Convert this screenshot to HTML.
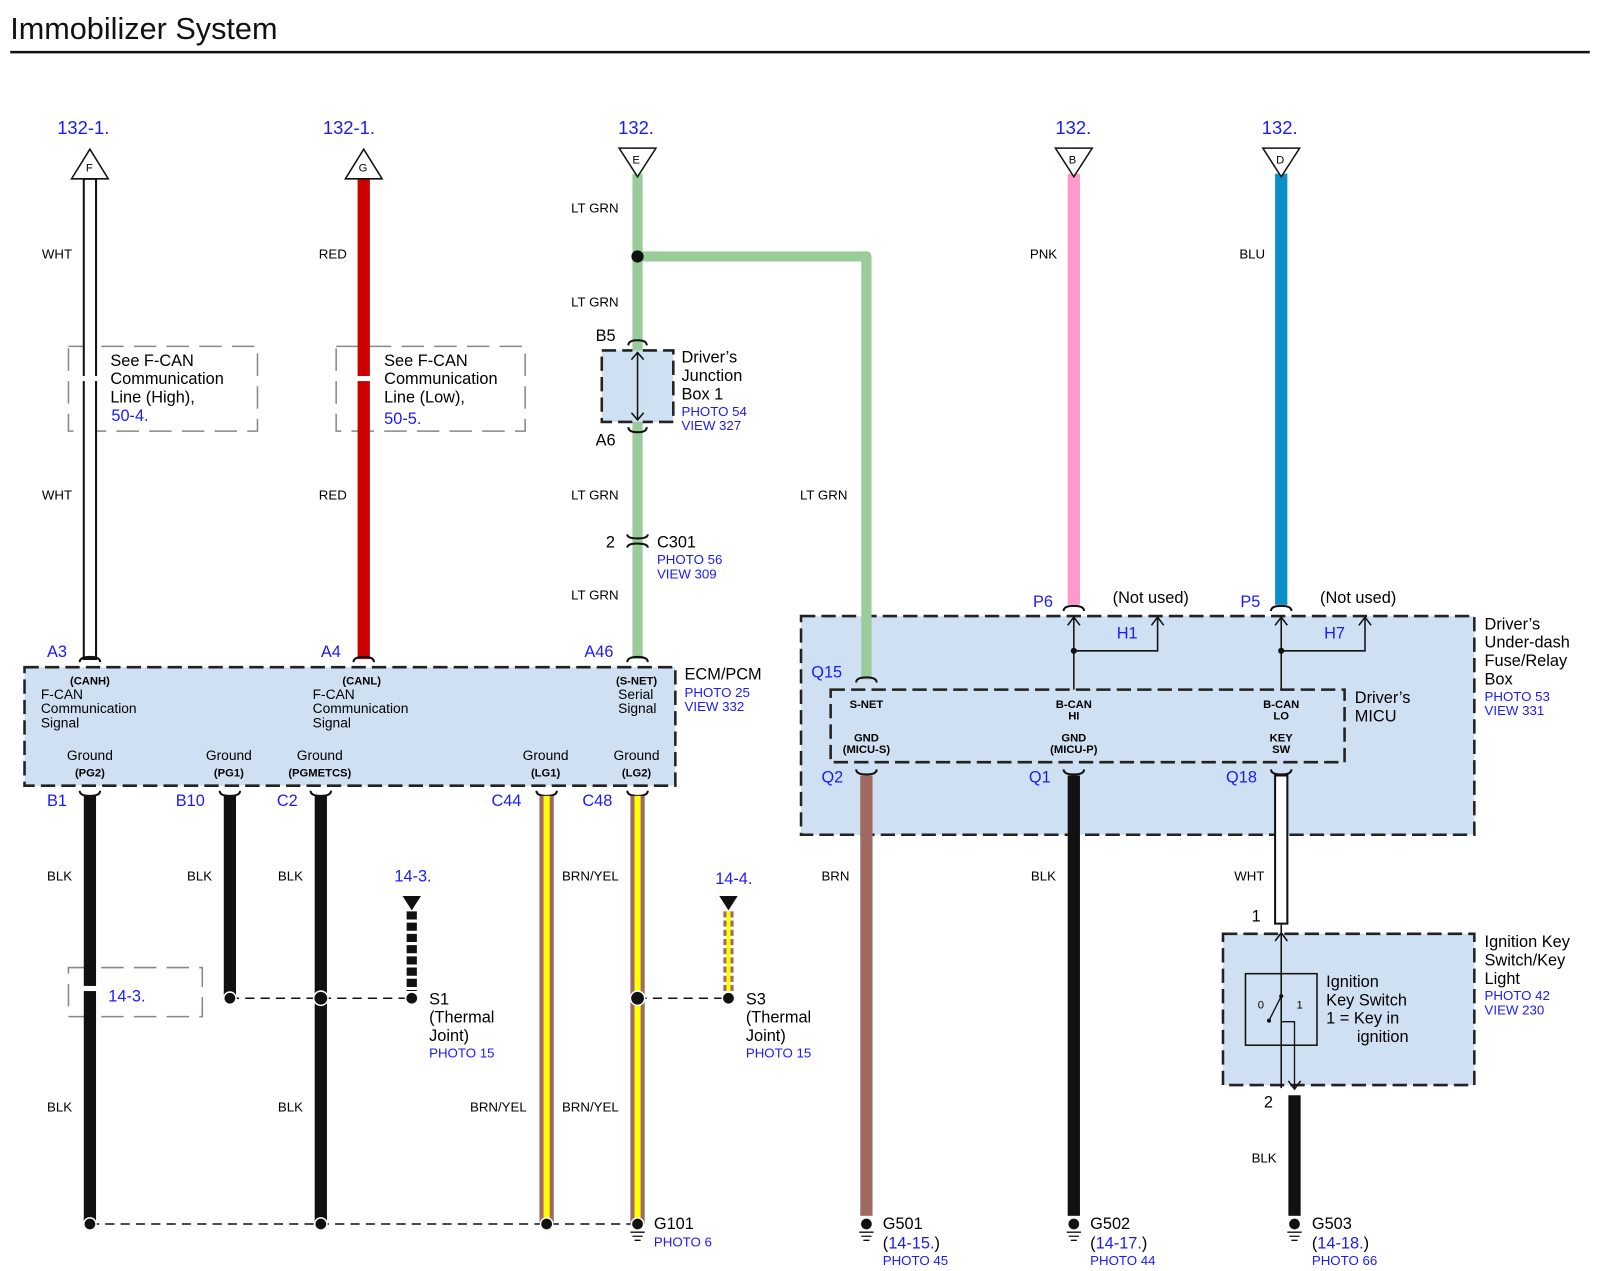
<!DOCTYPE html>
<html><head><meta charset="utf-8"><style>
html,body{margin:0;padding:0;background:#fff;}
svg{display:block;}
text{font-family:"Liberation Sans",Arial,sans-serif;}
.b{fill:#1a1aff;}
.s{font-size:13px;}
.m{font-size:16px;}
.l{font-size:18px;}
.t{font-size:11px;font-weight:bold;}
.box{fill:#cfe0f3;stroke:#222;stroke-width:2.5;stroke-dasharray:14 6;}
.gd{fill:none;stroke:#888;stroke-width:1.5;stroke-dasharray:22 10;}
.dd{stroke:#111;stroke-width:1.5;stroke-dasharray:9 6;fill:none;}
</style></head><body>
<svg width="1600" height="1271" viewBox="0 0 1566 1244" preserveAspectRatio="none" xmlns="http://www.w3.org/2000/svg">
<text x="10" y="38" font-size="30" fill="#111">Immobilizer System</text>
<line x1="10" y1="51" x2="1556" y2="51" stroke="#111" stroke-width="2.5"/>

<!-- top refs -->
<text x="56" y="131" class="l b">132-1.</text>
<text x="316" y="131" class="l b">132-1.</text>
<text x="605" y="131" class="l b">132.</text>
<text x="1033" y="131" class="l b">132.</text>
<text x="1235" y="131" class="l b">132.</text>

<!-- boxes -->
<rect x="24" y="653" width="637" height="116" class="box"/>
<rect x="784" y="603" width="659" height="214" class="box"/>
<rect x="813" y="675" width="503" height="71" class="box"/>
<rect x="589" y="343" width="70" height="70" class="box"/>
<rect x="1197" y="914" width="246" height="148" class="box"/>

<!-- see f-can dashed boxes -->
<rect x="67" y="339" width="185" height="83" class="gd"/>
<rect x="329" y="339" width="185" height="83" class="gd"/>
<rect x="67" y="947" width="131" height="48" class="gd"/>

<!-- WHT wire -->
<rect x="82" y="175" width="12" height="470" fill="#fff" stroke="#111" stroke-width="2"/>
<polygon points="88,146 70,175 106,175" fill="#fff" stroke="#111" stroke-width="1.5"/>
<text x="84" y="168" font-size="11">F</text>
<!-- RED -->
<rect x="350" y="175" width="12" height="470" fill="#cc0000"/>
<polygon points="356,146 338,175 374,175" fill="#fff" stroke="#111" stroke-width="1.5"/>
<text x="351" y="168" font-size="11">G</text>
<!-- gaps for see boxes -->
<rect x="80" y="368" width="16" height="5" fill="#fff"/>
<rect x="348" y="368" width="16" height="5" fill="#fff"/>
<rect x="80" y="965" width="16" height="5" fill="#fff"/>

<!-- LT GRN -->
<rect x="619" y="170" width="10" height="475" fill="#99cc99"/>
<path d="M624,251 H848 V665" fill="none" stroke="#99cc99" stroke-width="10" stroke-linejoin="round"/>
<circle cx="624" cy="251" r="6" fill="#111"/>
<polygon points="606,145 642,145 624,173" fill="#fff" stroke="#111" stroke-width="1.5"/>
<text x="619" y="160" font-size="11">E</text>
<!-- PNK -->
<rect x="1045" y="170" width="12" height="422" fill="#ff99cc"/>
<polygon points="1033,145 1069,145 1051,173" fill="#fff" stroke="#111" stroke-width="1.5"/>
<text x="1046" y="160" font-size="11">B</text>
<!-- BLU -->
<rect x="1248" y="170" width="12" height="422" fill="#0b8fc9"/>
<polygon points="1236,145 1272,145 1254,173" fill="#fff" stroke="#111" stroke-width="1.5"/>
<text x="1249" y="160" font-size="11">D</text>

<!-- junction box arrow -->
<rect x="619" y="343" width="10" height="70" fill="#cfe0f3"/>
<line x1="624" y1="346" x2="624" y2="410" stroke="#111" stroke-width="1.5"/>
<path d="M618,352 L624,345 L630,352 M618,404 L624,411 L630,404" fill="none" stroke="#111" stroke-width="1.5"/>
<g fill="none" stroke="#111" stroke-width="2">
<path d="M615,338 q0,-5 9,-5 q9,0 9,5"/>
<path d="M615,418 q0,5 9,5 q9,0 9,-5"/>
<path d="M614,523 q0,4 10,4 q10,0 10,-4"/>
<path d="M614,536 q0,-4 10,-4 q10,0 10,4"/>
<path d="M78,648 q0,-5 10,-5 q10,0 10,5"/>
<path d="M346,648 q0,-5 10,-5 q10,0 10,5"/>
<path d="M614,648 q0,-5 10,-5 q10,0 10,5"/>
<path d="M838,668 q0,-5 10,-5 q10,0 10,5"/>
<path d="M1041,598 q0,-5 10,-5 q10,0 10,5"/>
<path d="M1244,598 q0,-5 10,-5 q10,0 10,5"/>
<path d="M78,774 q0,5 10,5 q10,0 10,-5"/>
<path d="M215,774 q0,5 10,5 q10,0 10,-5"/>
<path d="M304,774 q0,5 10,5 q10,0 10,-5"/>
<path d="M525,774 q0,5 10,5 q10,0 10,-5"/>
<path d="M614,774 q0,5 10,5 q10,0 10,-5"/>
<path d="M838,753 q0,5 10,5 q10,0 10,-5"/>
<path d="M1041,753 q0,5 10,5 q10,0 10,-5"/>
<path d="M1244,753 q0,5 10,5 q10,0 10,-5"/>
</g>

<!-- bottom wires -->
<rect x="82" y="779" width="12" height="419" fill="#111"/>
<rect x="219" y="779" width="12" height="198" fill="#111"/>
<rect x="308" y="779" width="12" height="419" fill="#111"/>
<rect x="528" y="779" width="14" height="419" fill="#a06a62"/><rect x="532" y="779" width="6" height="419" fill="#ffff00"/>
<rect x="617" y="779" width="14" height="419" fill="#a06a62"/><rect x="621" y="779" width="6" height="419" fill="#ffff00"/>
<rect x="842" y="759" width="12" height="431" fill="#a06a62"/>
<rect x="1045" y="759" width="12" height="431" fill="#111"/>
<rect x="1248" y="759" width="12" height="145" fill="#fff" stroke="#111" stroke-width="2"/>
<rect x="1261" y="1072" width="12" height="118" fill="#111"/>
<rect x="80" y="965" width="16" height="5" fill="#fff"/>

<!-- S1 stub -->
<polygon points="394,877 412,877 403,891" fill="#111"/>
<line x1="403" y1="892" x2="403" y2="970" stroke="#111" stroke-width="10" stroke-dasharray="8 3"/>
<polygon points="704,877 722,877 713,891" fill="#111"/>
<line x1="713" y1="892" x2="713" y2="970" stroke="#a06a62" stroke-width="10" stroke-dasharray="6 3"/>
<line x1="713" y1="892" x2="713" y2="970" stroke="#ffff00" stroke-width="4"/>

<!-- splice lines -->
<path d="M225,977 H403" class="dd"/>
<path d="M624,977 H713" class="dd"/>
<path d="M88,1198 H624" class="dd"/>
<g fill="#111" stroke="#fff" stroke-width="1.5">
<circle cx="225" cy="977" r="6"/><circle cx="314" cy="977" r="7"/><circle cx="403" cy="977" r="6"/>
<circle cx="624" cy="977" r="7"/><circle cx="713" cy="977" r="6"/>
<circle cx="88" cy="1198" r="6"/><circle cx="314" cy="1198" r="6"/><circle cx="535" cy="1198" r="6"/><circle cx="624" cy="1198" r="6"/>
<circle cx="848" cy="1198" r="6"/><circle cx="1051" cy="1198" r="6"/><circle cx="1267" cy="1198" r="6"/>
</g>
<g stroke="#111" stroke-width="1.3">
<path d="M617,1206 h14 M619,1210 h10 M621,1214 h6"/>
<path d="M841,1206 h14 M843,1210 h10 M845,1214 h6"/>
<path d="M1044,1206 h14 M1046,1210 h10 M1048,1214 h6"/>
<path d="M1260,1206 h14 M1262,1210 h10 M1264,1214 h6"/>
</g>

<!-- MICU internal -->
<g stroke="#111" stroke-width="1.5" fill="none">
<path d="M1051,603 V675 M1051,637 H1133 V605 M1045,612 L1051,604 L1057,612 M1127,612 L1133,604 L1139,612"/>
<path d="M1254,603 V675 M1254,637 H1336 V605 M1248,612 L1254,604 L1260,612 M1330,612 L1336,604 L1342,612"/>
<path d="M1254,905 V1065 M1248,921 L1254,913 L1260,921 M1261,1058 L1267,1066 L1273,1058"/>
</g>
<circle cx="1051" cy="637" r="3" fill="#111"/><circle cx="1254" cy="637" r="3" fill="#111"/>
<!-- ignition switch -->
<rect x="1219" y="953" width="70" height="70" fill="none" stroke="#111" stroke-width="1.5"/>
<g stroke="#111" stroke-width="1.3" fill="none">
<path d="M1254,914 V975 L1242,999 M1254,1000 H1267 V1065"/>
</g>
<circle cx="1254" cy="975" r="2" fill="#111"/><circle cx="1242" cy="999" r="2" fill="#111"/>
<text x="1231" y="987" font-size="11">0</text><text x="1269" y="987" font-size="11">1</text>

<!-- labels -->
<g class="s">
<text x="41" y="253">WHT</text><text x="41" y="489">WHT</text>
<text x="312" y="253">RED</text><text x="312" y="489">RED</text>
<text x="559" y="208">LT GRN</text><text x="559" y="300">LT GRN</text><text x="559" y="489">LT GRN</text><text x="559" y="587">LT GRN</text>
<text x="783" y="489">LT GRN</text>
<text x="1008" y="253">PNK</text><text x="1213" y="253">BLU</text>
<text x="46" y="862">BLK</text><text x="183" y="862">BLK</text><text x="272" y="862">BLK</text>
<text x="550" y="862">BRN/YEL</text><text x="804" y="862">BRN</text><text x="1009" y="862">BLK</text><text x="1208" y="862">WHT</text>
<text x="46" y="1088">BLK</text><text x="272" y="1088">BLK</text><text x="460" y="1088">BRN/YEL</text><text x="550" y="1088">BRN/YEL</text>
<text x="1225" y="1138">BLK</text>
</g>
<g class="m">
<text x="108" y="358">See F-CAN</text><text x="108" y="376">Communication</text><text x="108" y="394">Line (High),</text>
<text x="109" y="412" class="b">50-4.</text>
<text x="376" y="358">See F-CAN</text><text x="376" y="376">Communication</text><text x="376" y="394">Line (Low),</text>
<text x="376" y="415" class="b">50-5.</text>
<text x="583" y="334">B5</text><text x="583" y="436">A6</text>
<text x="667" y="355">Driver’s</text><text x="667" y="373">Junction</text><text x="667" y="391">Box 1</text>
<text x="593" y="536">2</text><text x="643" y="536">C301</text>
<text x="46" y="643" class="b">A3</text><text x="314" y="643" class="b">A4</text><text x="572" y="643" class="b">A46</text>
<text x="670" y="665">ECM/PCM</text>
<text x="46" y="789" class="b">B1</text><text x="172" y="789" class="b">B10</text><text x="271" y="789" class="b">C2</text>
<text x="481" y="789" class="b">C44</text><text x="570" y="789" class="b">C48</text>
<text x="386" y="863" class="b">14-3.</text><text x="700" y="865" class="b">14-4.</text>
<text x="106" y="980" class="b">14-3.</text>
<text x="420" y="983">S1</text><text x="420" y="1001">(Thermal</text><text x="420" y="1019">Joint)</text>
<text x="730" y="983">S3</text><text x="730" y="1001">(Thermal</text><text x="730" y="1019">Joint)</text>
<text x="640" y="1203">G101</text>
<text x="1011" y="594" class="b">P6</text><text x="1089" y="590">(Not used)</text>
<text x="1214" y="594" class="b">P5</text><text x="1292" y="590">(Not used)</text>
<text x="1093" y="625" class="b">H1</text><text x="1296" y="625" class="b">H7</text>
<text x="794" y="663" class="b">Q15</text>
<text x="804" y="766" class="b">Q2</text><text x="1007" y="766" class="b">Q1</text><text x="1200" y="766" class="b">Q18</text>
<text x="1453" y="616">Driver’s</text><text x="1453" y="634">Under-dash</text><text x="1453" y="652">Fuse/Relay</text><text x="1453" y="670">Box</text>
<text x="1326" y="688">Driver’s</text><text x="1326" y="706">MICU</text>
<text x="1225" y="902">1</text><text x="1237" y="1084">2</text>
<text x="1453" y="927">Ignition Key</text><text x="1453" y="945">Switch/Key</text><text x="1453" y="963">Light</text>
<text x="1298" y="966">Ignition</text><text x="1298" y="984">Key Switch</text><text x="1298" y="1002">1 = Key in</text><text x="1328" y="1020">ignition</text>
<text x="864" y="1203">G501</text><text x="864" y="1222">(<tspan class="b">14-15.</tspan>)</text>
<text x="1067" y="1203">G502</text><text x="1067" y="1222">(<tspan class="b">14-17.</tspan>)</text>
<text x="1284" y="1203">G503</text><text x="1284" y="1222">(<tspan class="b">14-18.</tspan>)</text>
</g>
<g class="s b">
<text x="667" y="407">PHOTO 54</text><text x="667" y="421">VIEW 327</text>
<text x="643" y="552">PHOTO 56</text><text x="643" y="566">VIEW 309</text>
<text x="670" y="682">PHOTO 25</text><text x="670" y="696">VIEW 332</text>
<text x="420" y="1035">PHOTO 15</text><text x="730" y="1035">PHOTO 15</text>
<text x="640" y="1220">PHOTO 6</text>
<text x="1453" y="686">PHOTO 53</text><text x="1453" y="700">VIEW 331</text>
<text x="1453" y="979">PHOTO 42</text><text x="1453" y="993">VIEW 230</text>
<text x="864" y="1238">PHOTO 45</text><text x="1067" y="1238">PHOTO 44</text><text x="1284" y="1238">PHOTO 66</text>
</g>
<g class="t" text-anchor="middle">
<text x="88" y="670">(CANH)</text><text x="354" y="670">(CANL)</text><text x="623" y="670">(S-NET)</text>
<text x="88" y="760">(PG2)</text><text x="224" y="760">(PG1)</text><text x="313" y="760">(PGMETCS)</text><text x="534" y="760">(LG1)</text><text x="623" y="760">(LG2)</text>
<text x="848" y="693">S-NET</text>
<text x="1051" y="693">B-CAN</text><text x="1051" y="704">HI</text>
<text x="1254" y="693">B-CAN</text><text x="1254" y="704">LO</text>
<text x="848" y="726">GND</text><text x="848" y="737">(MICU-S)</text>
<text x="1051" y="726">GND</text><text x="1051" y="737">(MICU-P)</text>
<text x="1254" y="726">KEY</text><text x="1254" y="737">SW</text>
</g>
<g font-size="13.5">
<text x="40" y="684">F-CAN</text><text x="40" y="698">Communication</text><text x="40" y="712">Signal</text>
<text x="306" y="684">F-CAN</text><text x="306" y="698">Communication</text><text x="306" y="712">Signal</text>
<text x="605" y="684">Serial</text><text x="605" y="698">Signal</text>
<g text-anchor="middle">
<text x="88" y="744">Ground</text><text x="224" y="744">Ground</text><text x="313" y="744">Ground</text><text x="534" y="744">Ground</text><text x="623" y="744">Ground</text>
</g>
</g>
</svg>
</body></html>
